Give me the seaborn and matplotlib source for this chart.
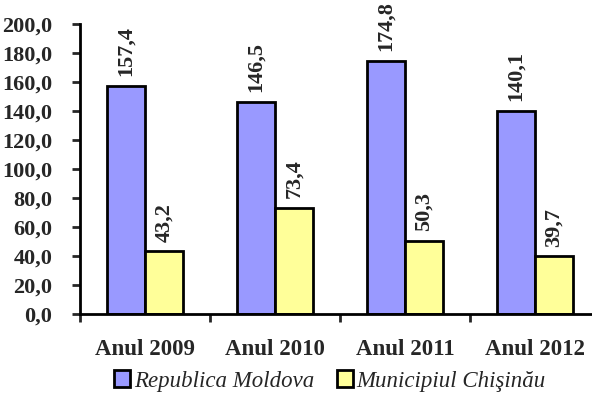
import matplotlib
matplotlib.use("Agg")
import matplotlib.pyplot as plt
import seaborn as sns
import pandas as pd
from matplotlib.patches import Patch

years = ["Anul 2009", "Anul 2010", "Anul 2011", "Anul 2012"]
series = ["Republica Moldova", "Municipiul Chişinău"]
moldova = [157.4, 146.5, 174.8, 140.1]
chisinau = [43.2, 73.4, 50.3, 39.7]
colors = ["#9999FF", "#FFFF99"]
yticks = [0, 20, 40, 60, 80, 100, 120, 140, 160, 180, 200]

df = pd.DataFrame({
    "an": years * 2,
    "serie": [series[0]] * 4 + [series[1]] * 4,
    "valoare": moldova + chisinau,
})

sns.set_style("white")
plt.rcParams["font.family"] = ["Liberation Serif", "DejaVu Serif"]

fig = plt.figure(figsize=(5.92, 3.94), dpi=100)
ax = fig.add_axes([80 / 592, 1 - 314 / 394, 520 / 592, 290 / 394])

sns.barplot(data=df, x="an", y="valoare", hue="serie", hue_order=series,
            palette=colors, width=0.58, gap=0, edgecolor="black",
            linewidth=2, saturation=1, ax=ax, legend=False)

ax.set_xlim(-0.5, 3.5)
ax.set_ylim(0, 200)
ax.set_xlabel("")
ax.set_ylabel("")

fmt = lambda v: f"{v:.1f}".replace(".", ",")
for cont in ax.containers:
    ax.bar_label(cont, labels=[fmt(b.get_height()) for b in cont],
                 rotation=90, padding=7, fontsize=16, fontweight="bold")

ax.set_yticks(yticks)
ax.set_yticklabels([fmt(v) for v in yticks], fontsize=16, fontweight="bold")
ax.tick_params(axis="y", left=True, length=6, width=2, pad=14, direction="out")

ax.set_xticks(range(len(years)))
ax.set_xticklabels(years, fontsize=16.5, fontweight="bold")
ax.set_xticks([-0.5, 0.5, 1.5, 2.5], minor=True)
ax.tick_params(axis="x", which="major", length=0, pad=18)
ax.tick_params(axis="x", which="minor", bottom=True, length=6, width=2, direction="out")

for side in ["top", "right"]:
    ax.spines[side].set_visible(False)
for side in ["left", "bottom"]:
    ax.spines[side].set_linewidth(2)
    ax.spines[side].set_color("black")

handles = [Patch(facecolor=c, edgecolor="black", linewidth=2) for c in colors]
fig.legend(handles, series, loc="center", bbox_to_anchor=(330 / 592, 1 - 381 / 394),
           ncol=2, frameon=False, handlelength=0.7, handleheight=0.7,
           handletextpad=0.15, columnspacing=1.0,
           prop={"family": "Liberation Serif", "style": "italic", "size": 16.5})

fig.savefig("out.png", dpi=100)
